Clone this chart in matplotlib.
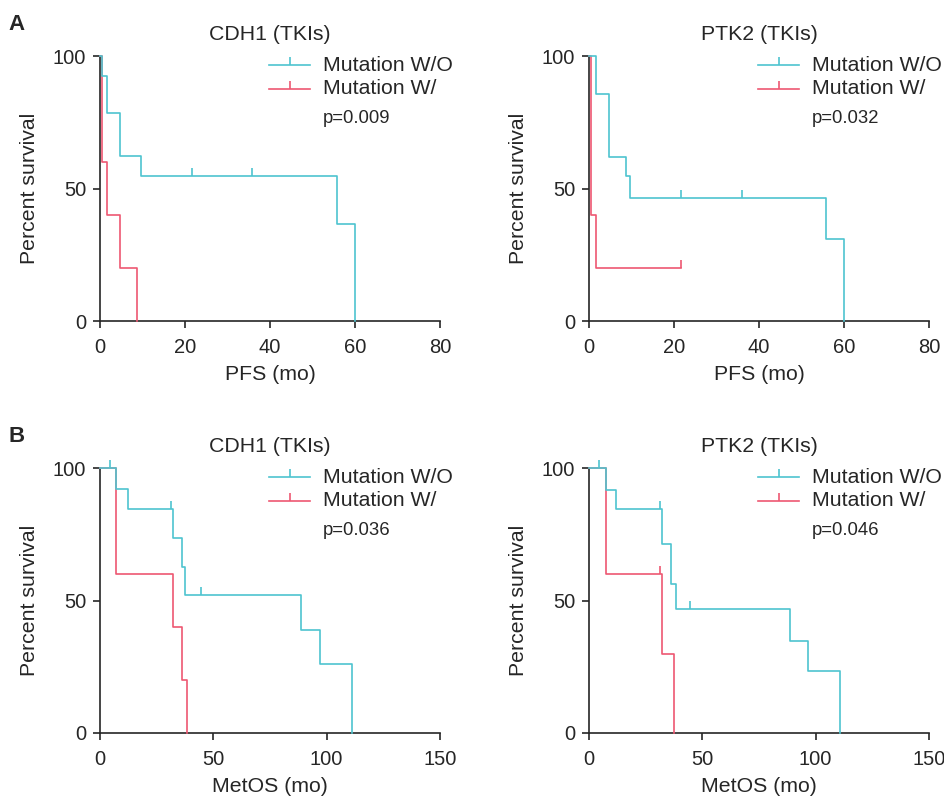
import matplotlib
matplotlib.use("Agg")
import matplotlib.pyplot as plt

plt.rcParams["font.family"] = ["Liberation Sans", "DejaVu Sans"]

CYAN = "#4EC4CF"
RED = "#EE5872"
INK = "#262626"

# ---- A: PFS ----
cdh1_pfs_wo_t = [0, 0.4, 1.7, 4.7, 9.6, 55.8, 60.0]
cdh1_pfs_wo_s = [100, 92.5, 78.4, 62.4, 54.7, 36.5, 0]
cdh1_pfs_wo_cens = [21.6, 35.8]
cdh1_pfs_w_t = [0, 0.4, 1.7, 4.7, 8.8]
cdh1_pfs_w_s = [100, 60, 40, 20, 0]
cdh1_pfs_w_cens = []

ptk2_pfs_wo_t = [0, 1.7, 4.7, 8.6, 9.7, 55.8, 59.9]
ptk2_pfs_wo_s = [100, 85.5, 62.0, 54.7, 46.3, 30.8, 0]
ptk2_pfs_wo_cens = [21.7, 36.0]
ptk2_pfs_w_t = [0, 0.5, 1.7, 21.7]
ptk2_pfs_w_s = [100, 40, 20, 20]
ptk2_pfs_w_cens = [21.7]

# ---- B: MetOS ----
cdh1_os_wo_t = [0, 7.1, 12.2, 32.4, 36.3, 37.5, 88.7, 96.9, 111.0]
cdh1_os_wo_s = [100, 92.0, 84.4, 73.4, 62.6, 52.2, 39.0, 26.0, 0]
cdh1_os_wo_cens = [4.4, 31.3, 44.4]
cdh1_os_w_t = [0, 7.1, 32.4, 36.3, 38.2]
cdh1_os_w_s = [100, 60, 40, 20, 0]
cdh1_os_w_cens = []

ptk2_os_wo_t = [0, 7.4, 12.1, 32.4, 36.3, 38.4, 88.5, 96.8, 110.6]
ptk2_os_wo_s = [100, 91.8, 84.4, 71.4, 56.4, 46.7, 34.9, 23.3, 0]
ptk2_os_wo_cens = [4.3, 31.2, 44.4]
ptk2_os_w_t = [0, 7.4, 32.4, 37.5]
ptk2_os_w_s = [100, 60, 30, 0]
ptk2_os_w_cens = [31.2]

p_values = ["p=0.009", "p=0.032", "p=0.036", "p=0.046"]
titles = ["CDH1 (TKIs)", "PTK2 (TKIs)", "CDH1 (TKIs)", "PTK2 (TKIs)"]
group_labels = ["Mutation W/O", "Mutation W/"]

TICK_MARK = [(0, 0), (0, 1)]  # censor tick pointing up


def surv_at(t_list, s_list, x):
    val = s_list[0]
    for t, s in zip(t_list, s_list):
        if t <= x:
            val = s
    return val


def draw_km(ax, t, s, cens, color):
    ax.step(t, s, where="post", color=color, lw=1.2, clip_on=False, zorder=3)
    if cens:
        ys = [surv_at(t, s, c) for c in cens]
        ax.plot(cens, ys, ls="none", marker=TICK_MARK, ms=11, mew=1.2,
                mec=color, mfc="none", clip_on=False, zorder=3)


def style_axis(ax, xmax, xticks, xlabel, title, pval):
    ax.set_xlim(0, xmax)
    ax.set_ylim(0, 100)
    ax.set_xticks(xticks)
    ax.set_yticks([0, 50, 100])
    for side in ["top", "right"]:
        ax.spines[side].set_visible(False)
    for side in ["left", "bottom"]:
        ax.spines[side].set_color(INK)
        ax.spines[side].set_linewidth(1.2)
    ax.tick_params(direction="out", length=5, width=1.2, color=INK,
                   labelsize=14.5, labelcolor=INK, pad=5)
    ax.tick_params(axis="x", pad=7)
    ax.set_xlabel(xlabel, fontsize=15.3, color=INK, labelpad=6)
    ax.set_ylabel("Percent survival", fontsize=15.3, color=INK, labelpad=10)
    ax.text(0.5, 1.08, title, transform=ax.transAxes, ha="center",
            va="center", fontsize=15.3, color=INK)

    # legend drawn by hand: line with censor tick + label
    for label, color, y in zip(group_labels, [CYAN, RED], [0.966, 0.877]):
        ax.plot([0.497, 0.618], [y, y], color=color, lw=1.2,
                transform=ax.transAxes, clip_on=False)
        ax.plot([0.5575], [y], ls="none", marker=TICK_MARK, ms=11, mew=1.2,
                mec=color, mfc="none", transform=ax.transAxes, clip_on=False)
        ax.text(0.656, y, label, transform=ax.transAxes, ha="left",
                va="center", fontsize=15.3, color=INK)
    ax.text(0.656, 0.765, pval, transform=ax.transAxes, ha="left",
            va="center", fontsize=13.3, color=INK)


fig = plt.figure(figsize=(9.44, 7.97), dpi=100)
W, H = 944, 797
positions = [
    (100, 56), (589, 56),
    (100, 468), (589, 468),
]
axes = []
for (x0, y0) in positions:
    ax = fig.add_axes([x0 / W, 1 - (y0 + 265) / H, 340 / W, 265 / H])
    axes.append(ax)

ax = axes[0]
draw_km(ax, cdh1_pfs_w_t, cdh1_pfs_w_s, cdh1_pfs_w_cens, RED)
draw_km(ax, cdh1_pfs_wo_t, cdh1_pfs_wo_s, cdh1_pfs_wo_cens, CYAN)
style_axis(ax, 80, [0, 20, 40, 60, 80], "PFS (mo)", titles[0], p_values[0])

ax = axes[1]
draw_km(ax, ptk2_pfs_w_t, ptk2_pfs_w_s, ptk2_pfs_w_cens, RED)
draw_km(ax, ptk2_pfs_wo_t, ptk2_pfs_wo_s, ptk2_pfs_wo_cens, CYAN)
style_axis(ax, 80, [0, 20, 40, 60, 80], "PFS (mo)", titles[1], p_values[1])

ax = axes[2]
draw_km(ax, cdh1_os_w_t, cdh1_os_w_s, cdh1_os_w_cens, RED)
draw_km(ax, cdh1_os_wo_t, cdh1_os_wo_s, cdh1_os_wo_cens, CYAN)
style_axis(ax, 150, [0, 50, 100, 150], "MetOS (mo)", titles[2], p_values[2])

ax = axes[3]
draw_km(ax, ptk2_os_w_t, ptk2_os_w_s, ptk2_os_w_cens, RED)
draw_km(ax, ptk2_os_wo_t, ptk2_os_wo_s, ptk2_os_wo_cens, CYAN)
style_axis(ax, 150, [0, 50, 100, 150], "MetOS (mo)", titles[3], p_values[3])

fig.text(8 / W, 1 - 25 / H, "A", fontsize=16, fontweight="bold", color=INK,
         va="center", ha="left")
fig.text(8 / W, 1 - 437 / H, "B", fontsize=16, fontweight="bold", color=INK,
         va="center", ha="left")

fig.savefig("out.png", dpi=100)
